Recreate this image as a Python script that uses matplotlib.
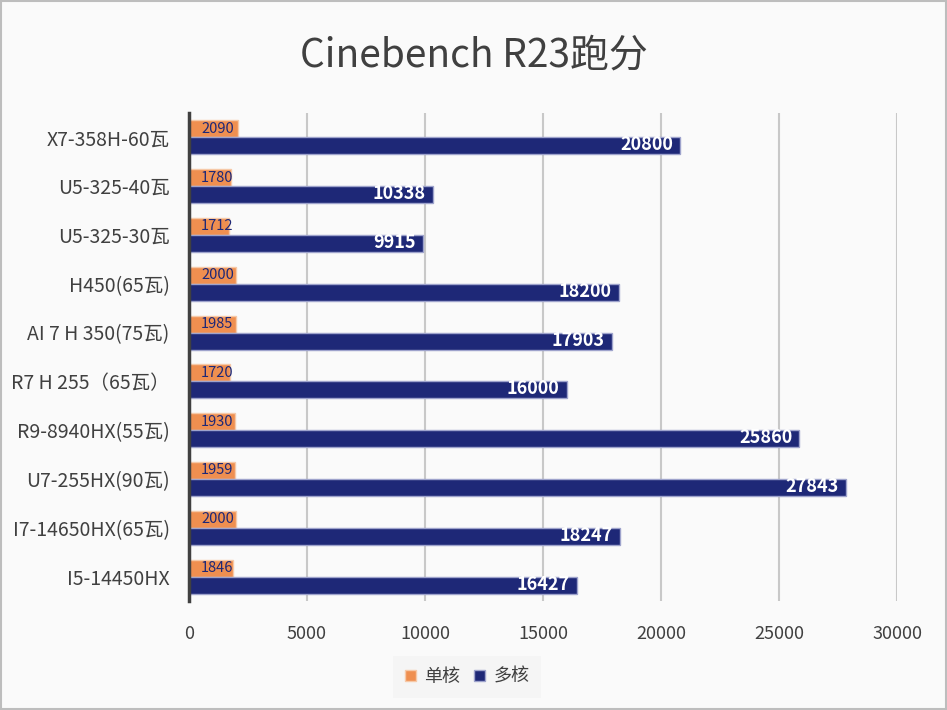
import matplotlib.pyplot as plt
import numpy as np

plt.rcParams['font.family'] = ['Noto Sans CJK SC', 'DejaVu Sans']

# categories, top to bottom
CPUS = ['X7-358H-60瓦', 'U5-325-40瓦', 'U5-325-30瓦', 'H450(65瓦)', 'AI 7 H 350(75瓦)',
        'R7 H 255（65瓦）', 'R9-8940HX(55瓦)', 'U7-255HX(90瓦)', 'I7-14650HX(65瓦)', 'I5-14450HX']
SINGLE = [2090, 1780, 1712, 2000, 1985, 1720, 1930, 1959, 2000, 1846]
MULTI = [20800, 10338, 9915, 18200, 17903, 16000, 25860, 27843, 18247, 16427]
X_TICKS = [0, 5000, 10000, 15000, 20000, 25000, 30000]

ORANGE = '#EF8F50'
NAVY = '#1E2877'
BG = '#FAFAFA'

fig = plt.figure(figsize=(9.47, 7.1), dpi=100, facecolor=BG)
ax = fig.add_axes([189 / 947, 1 - 601 / 710, 708 / 947, 488 / 710])
ax.set_facecolor(BG)

y = np.arange(len(CPUS))
h = 0.35
b1 = ax.barh(y - h / 2, SINGLE, height=h, color=ORANGE, edgecolor='#F6C9A8', linewidth=1, label='单核', zorder=3)
b2 = ax.barh(y + h / 2, MULTI, height=h, color=NAVY, edgecolor='#9EA3CC', linewidth=1, label='多核', zorder=3)

# data labels
for yi, v in zip(y, SINGLE):
    ax.annotate(str(v), xy=(0, yi - h / 2), xytext=(12, 0), textcoords='offset pixels',
                ha='left', va='center', fontsize=10.5, color=NAVY, zorder=4)
for yi, v in zip(y, MULTI):
    ax.annotate(str(v), xy=(v, yi + h / 2), xytext=(-7, 1), textcoords='offset pixels',
                ha='right', va='center', fontsize=13, fontweight='bold', color='white', zorder=4)

ax.set_ylim(len(CPUS) - 0.5, -0.5)
ax.set_xlim(0, 30000)
ax.set_xticks(X_TICKS)
ax.set_yticks(y)
ax.set_yticklabels(CPUS)
ax.tick_params(axis='both', length=0, colors='#404040')
ax.tick_params(axis='x', pad=17, labelsize=13)
ax.tick_params(axis='y', pad=14, labelsize=14)

ax.grid(axis='x', color='#C8C8C8', linewidth=1.5, zorder=0)
for s in ['top', 'right', 'bottom']:
    ax.spines[s].set_visible(False)
ax.spines['left'].set_color('#404040')
ax.spines['left'].set_linewidth(2.5)
ax.spines['left'].set_zorder(5)

fig.text(0.5, 1 - 55 / 710, 'Cinebench R23跑分', ha='center', va='center', fontsize=28, color='#404040')

leg = fig.legend(handles=[b1, b2], loc='center', bbox_to_anchor=(467 / 947, 1 - 677 / 710), ncol=2,
                 fontsize=13, frameon=True, handlelength=0.6, handleheight=0.6, handletextpad=0.45,
                 columnspacing=0.8, borderpad=0.35, borderaxespad=0)
leg.get_frame().set_facecolor('#F4F4F4')
leg.get_frame().set_edgecolor('none')
leg.get_frame().set_boxstyle('square')
for t in leg.get_texts():
    t.set_color('#404040')

# figure border
fig.patches.append(plt.Rectangle((0.001, 0.001), 0.998, 0.998, transform=fig.transFigure,
                                 fill=False, edgecolor='#BDBDBD', linewidth=1.5))

fig.savefig('out.png', dpi=100, facecolor=BG)
